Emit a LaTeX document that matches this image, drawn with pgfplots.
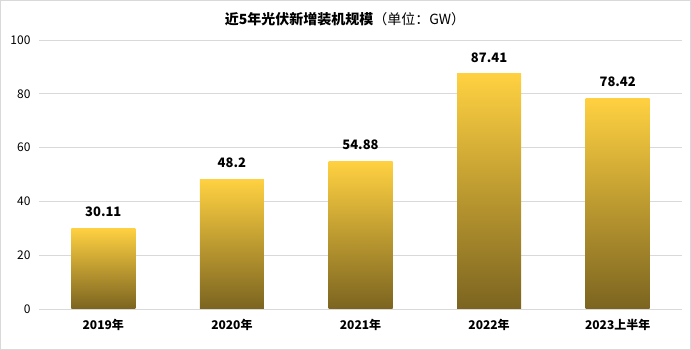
\documentclass[border=0pt]{standalone}
\usepackage{pgfplots}
\pgfplotsset{compat=1.18}
\usepackage{fontspec}
\setmainfont{Noto Sans CJK SC}
\definecolor{bartop}{HTML}{FFD141}
\definecolor{barmid}{HTML}{DDB33A}
\definecolor{barbot}{HTML}{7B6420}
\definecolor{gridgray}{HTML}{D9D9D9}
\pgfplotsset{
  goldbar/.style={draw=none, bar shift=0pt,
    top color=bartop, middle color=barmid, bottom color=barbot},
}
\begin{document}
\begin{tikzpicture}[x=1pt,y=1pt]
\useasboundingbox (0,0) rectangle (691,350);
\draw[gridgray] (0.5,0.5) rectangle (690.5,349.5);
\node[font=\bfseries\fontsize{14}{16}\selectfont] at (345,331) {近5年光伏新增装机规模\mdseries（单位：GW）};
\begin{axis}[
  at={(39pt,41pt)}, anchor=south west,
  scale only axis, width=643pt, height=269pt,
  ymin=0, ymax=100, ytick={0,20,...,100},
  xmin=-0.5, xmax=4.5,
  xtick={0,1,2,3,4},
  xticklabels={2019年,2020年,2021年,2022年,2023上半年},
  axis line style={draw=none},
  major tick length=0pt,
  ymajorgrids, grid style={gridgray, line width=0.8pt},
  yticklabel style={font=\fontsize{12}{14}\selectfont, xshift=-5pt},
  xticklabel style={font=\bfseries\fontsize{12}{14}\selectfont, yshift=-7pt},
  /pgf/number format/assume math mode=true,
  ybar, bar width=64pt,
  nodes near coords,
  every node near coord/.append style={font=\bfseries\fontsize{13}{15}\selectfont, yshift=8pt},
  point meta=explicit symbolic,
]
% one plot per year so that every bar carries its own gradient
\addplot[goldbar] coordinates {(0,30.11)[30.11]};
\addplot[goldbar] coordinates {(1,48.2)[48.2]};
\addplot[goldbar] coordinates {(2,54.88)[54.88]};
\addplot[goldbar] coordinates {(3,87.41)[87.41]};
\addplot[goldbar] coordinates {(4,78.42)[78.42]};
\end{axis}
\end{tikzpicture}
\end{document}
